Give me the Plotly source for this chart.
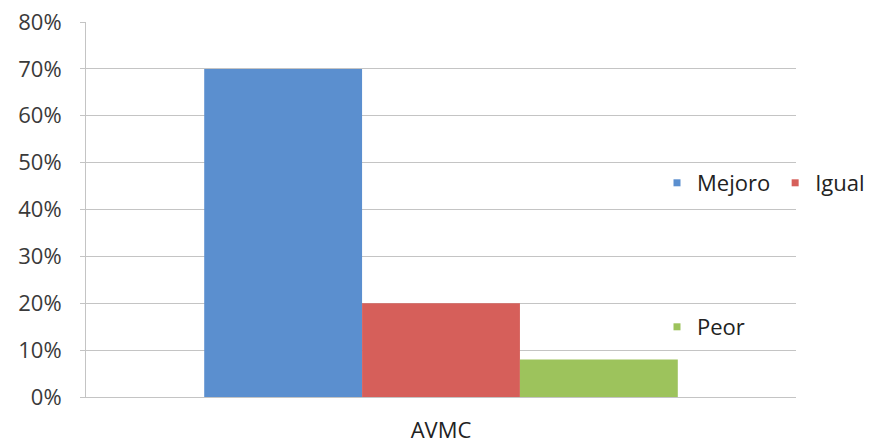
import plotly.graph_objects as go

categories = ["AVMC"]
series_names = ["Mejoro", "Igual", "Peor"]
mejoro = [0.70]
igual = [0.20]
peor = [0.08]
colors = ["#5b8fcf", "#d65f5a", "#9dc35c"]
y_ticks = [0, 0.1, 0.2, 0.3, 0.4, 0.5, 0.6, 0.7, 0.8]
y_tick_labels = ["0%", "10%", "20%", "30%", "40%", "50%", "60%", "70%", "80%"]

W, H = 869, 447
FONT = "Open Sans"
fig = go.Figure()
values = [mejoro, igual, peor]
for name, vals, col in zip(series_names, values, colors):
    fig.add_trace(go.Bar(x=categories, y=vals, name=name, marker_color=col,
                         marker_line_width=0, showlegend=False))

legend_of = {"Mejoro": "legend", "Igual": "legend", "Peor": "legend2"}
for name, col in zip(series_names, colors):
    fig.add_trace(go.Scatter(x=[None], y=[None], mode="markers", name=name,
                             marker=dict(symbol="square", size=7, color=col),
                             legend=legend_of[name]))

fig.update_layout(
    width=W, height=H,
    margin=dict(l=86, r=73, t=22, b=50, autoexpand=False),
    paper_bgcolor="white", plot_bgcolor="white",
    barmode="group", bargap=0.333, bargroupgap=0,
    font=dict(family=FONT, size=22, color="#3a3a3a"),
    legend=dict(orientation="h", xref="container", yref="container",
                x=657 / W, xanchor="left", y=1 - 183 / H, yanchor="middle",
                font=dict(size=22, color="#222"), itemwidth=30,
                bgcolor="rgba(0,0,0,0)", tracegroupgap=0),
    legend2=dict(orientation="h", xref="container", yref="container",
                 x=657 / W, xanchor="left", y=1 - 327 / H, yanchor="middle",
                 font=dict(size=22, color="#222"), itemwidth=30,
                 bgcolor="rgba(0,0,0,0)"),
)
fig.update_yaxes(range=[0, 0.8], tickvals=y_ticks, ticktext=y_tick_labels,
                 showgrid=True, gridcolor="#c4c4c4", gridwidth=1,
                 showline=True, linecolor="#c4c4c4", linewidth=1,
                 ticks="outside", ticklen=5, tickcolor="#c4c4c4",
                 ticklabelstandoff=14, zeroline=False)
fig.update_xaxes(showline=True, linecolor="#c4c4c4", linewidth=1,
                 ticks="", ticklabelstandoff=14, tickfont=dict(color="#222"))

fig.write_html("out.html")
